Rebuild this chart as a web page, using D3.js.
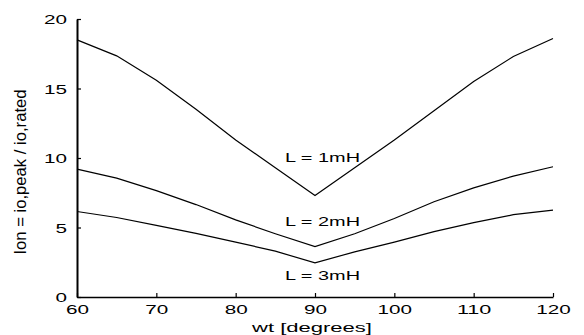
<!DOCTYPE html>
<html>
<head>
    <meta charset="UTF-8">
    <script src="https://d3js.org/d3.v7.min.js"></script>
    <style>
        body { margin: 0; background: #fff; }
        text { font-family: "Liberation Sans", Arial, sans-serif; fill: #000; }
    </style>
</head>
<body>
<svg width="584" height="335"></svg>
<script>
    // angles (degrees)
    var wt = [60, 65, 70, 75, 80, 85, 90, 95, 100, 105, 110, 115, 120];
    // normalised peak current for each inductance
    var l1 = [18.5, 17.35, 15.6, 13.5, 11.3, 9.3, 7.3, 9.3, 11.3, 13.4, 15.5, 17.3, 18.6];
    var l2 = [9.2, 8.55, 7.65, 6.65, 5.55, 4.55, 3.62, 4.55, 5.65, 6.85, 7.85, 8.7, 9.37];
    var l3 = [6.15, 5.72, 5.15, 4.58, 3.95, 3.3, 2.45, 3.25, 3.95, 4.7, 5.35, 5.92, 6.25];
    var labels = ["L = 1mH", "L = 2mH", "L = 3mH"];
    var xTicks = [60, 70, 80, 90, 100, 110, 120];
    var yTicks = [0, 5, 10, 15, 20];

    var svg = d3.select("svg");
    var x = d3.scaleLinear().domain([60, 120]).range([77, 553]);
    var y = d3.scaleLinear().domain([0, 20]).range([297, 19]);

    var series = [l1, l2, l3];
    var line = d3.line()
        .x(function(d, i) { return x(wt[i]); })
        .y(function(d) { return y(d); });

    svg.selectAll("path.curve")
        .data(series)
        .enter()
        .append("path")
        .attr("class", "curve")
        .attr("d", line)
        .attr("fill", "none")
        .attr("stroke", "#000")
        .attr("stroke-width", 1.2);

    // axes, matlab style: ticks point inwards
    var xAxis = svg.append("g")
        .attr("transform", "translate(0," + y(0) + ")")
        .call(d3.axisBottom(x).tickValues(xTicks).tickSizeInner(-4).tickSizeOuter(0).tickPadding(9));
    var yAxis = svg.append("g")
        .attr("transform", "translate(" + x(60) + ",0)")
        .call(d3.axisLeft(y).tickValues(yTicks).tickSizeInner(-4).tickSizeOuter(0).tickPadding(10));

    xAxis.select(".domain").attr("stroke-width", 1.5);
    yAxis.select(".domain").attr("stroke-width", 2);
    svg.selectAll(".tick line").attr("stroke-width", 1.2);

    // the scanned font is wide, so stretch the tick labels
    svg.selectAll(".tick text")
        .attr("font-size", 13)
        .attr("font-family", "Liberation Sans, Arial")
        .attr("lengthAdjust", "spacingAndGlyphs")
        .attr("textLength", function(d) { return String(d).length * 11.5; });
    xAxis.selectAll("text").attr("dy", "0.6em");
    yAxis.selectAll("text").attr("dy", "0.35em");

    // curve labels
    var labelPos = [[90, 9.7], [90, 5.1], [90, 1.25]];
    svg.selectAll("text.lab")
        .data(labels)
        .enter()
        .append("text")
        .attr("class", "lab")
        .attr("x", function(d, i) { return x(labelPos[i][0]) - 30; })
        .attr("y", function(d, i) { return y(labelPos[i][1]); })
        .attr("font-size", 13)
        .attr("lengthAdjust", "spacingAndGlyphs")
        .attr("textLength", 75)
        .text(function(d) { return d; });

    svg.append("text")
        .attr("x", x(90) - 3)
        .attr("y", 332)
        .attr("text-anchor", "middle")
        .attr("font-size", 13)
        .attr("lengthAdjust", "spacingAndGlyphs")
        .attr("textLength", 120)
        .text("wt [degrees]");

    svg.append("text")
        .attr("transform", "translate(26,172) rotate(-90)")
        .attr("text-anchor", "middle")
        .attr("font-size", 16)
        .attr("lengthAdjust", "spacingAndGlyphs")
        .attr("textLength", 165)
        .text("Ion = io,peak / io,rated");
</script>
</body>
</html>
